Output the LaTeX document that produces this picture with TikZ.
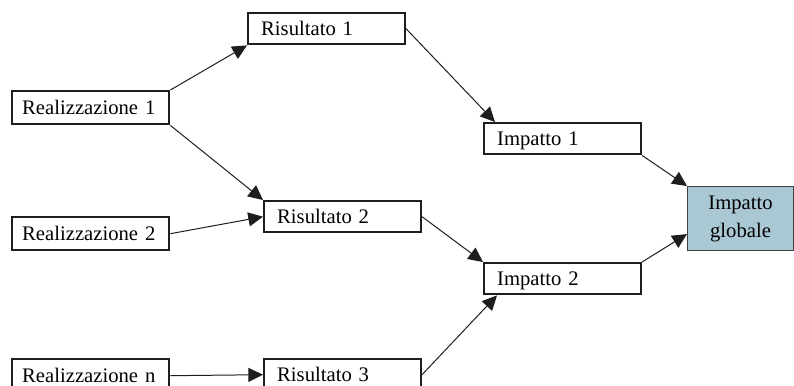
\documentclass[tikz,border=0pt]{standalone}
\usepackage{fontspec}
\setmainfont{Liberation Serif}
\usetikzlibrary{arrows.meta,calc}

\definecolor{boxline}{HTML}{1E1E1E}
\definecolor{globalfill}{HTML}{AAC8D4}
\definecolor{globalline}{HTML}{404040}

\tikzset{
  stage/.style={draw=boxline, line width=1.8pt, anchor=north west, align=left,
    inner ysep=0pt, inner xsep=9.75pt, text width=98pt,
    text height=10.5pt, text depth=0pt, minimum height=23.25pt,
    font=\fontsize{15.5}{21}\selectfont},
  source/.style={stage, inner xsep=7.5pt, text width=102.75pt, minimum height=24.75pt},
  overall/.style={draw=globalline, line width=0.8pt, fill=globalfill, anchor=north west,
    align=center, inner sep=0pt, minimum width=79.5pt, minimum height=48pt,
    font=\fontsize{15.5}{21}\selectfont},
  flow/.style={draw=boxline, line width=0.75pt, -{Triangle[length=11pt,width=10.5pt]}}
}

\begin{document}
\begin{tikzpicture}[x=0.75pt, y=-0.75pt]
  \useasboundingbox (0,0) rectangle (794,386);

  % realizzazioni
  \node[source] (r1) at (11,90)  {Realizzazione 1};
  \node[source] (r2) at (11,216) {Realizzazione 2};
  \node[source] (rn) at (11,358) {Realizzazione n};

  % risultati
  \node[stage] (s1) at (247,12)  {Risultato 1};
  \node[stage] (s2) at (263,200) {Risultato 2};
  \node[stage] (s3) at (263,358) {Risultato 3};

  % impatti
  \node[stage] (i1) at (483,122) {Impatto 1};
  \node[stage] (i2) at (483,262) {Impatto 2};

  % impatto globale
  \node[overall] (g) at (687,186) {Impatto\\globale};

  % connettori
  \draw[flow] (r1.north east) -- (s1.south west);
  \draw[flow] (r1.south east) -- (s2.north west);
  \draw[flow] (r2.east) -- (s2.west);
  \draw[flow] (rn.east) -- (s3.west);

  \draw[flow] (s1.east) -- ($(i1.north west)+(12,0)$);
  \draw[flow] (s2.east) -- (i2.north west);
  \draw[flow] (s3.east) -- ($(i2.south west)+(14,0)$);

  \draw[flow] (i1.south east) -- (g.north west);
  \draw[flow] (i2.north east) -- ($(g.south west)+(0,-17)$);
\end{tikzpicture}
\end{document}
